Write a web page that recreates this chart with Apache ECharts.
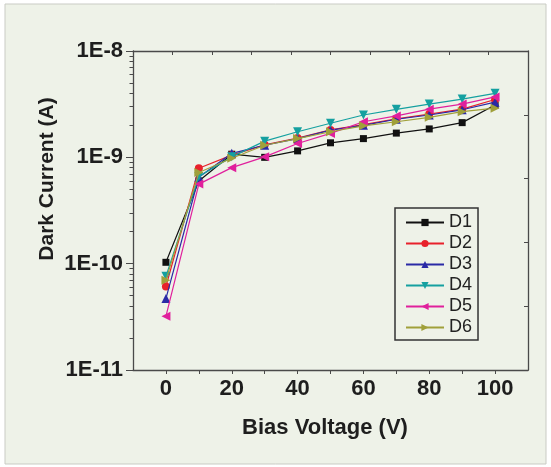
<!DOCTYPE html>
<html>
<head>
<meta charset="utf-8">
<script src="https://cdn.jsdelivr.net/npm/echarts@6/dist/echarts.min.js"></script>
<style>
html,body{margin:0;padding:0;background:#ffffff;}
#chart{width:551px;height:467px;}
</style>
</head>
<body>
<div id="chart"></div>
<script>
// ---- data ----
const voltages = [0, 10, 20, 30, 40, 50, 60, 70, 80, 90, 100];
const seriesNames = ['D1', 'D2', 'D3', 'D4', 'D5', 'D6'];
const D1 = [1.03e-10, 6.0e-10, 1.07e-9, 1.0e-9, 1.15e-9, 1.37e-9, 1.50e-9, 1.69e-9, 1.85e-9, 2.12e-9, 3.1e-9];
const D2 = [6.1e-11, 7.9e-10, 1.05e-9, 1.31e-9, 1.52e-9, 1.81e-9, 2.03e-9, 2.30e-9, 2.55e-9, 2.84e-9, 3.5e-9];
const D3 = [4.7e-11, 6.5e-10, 1.09e-9, 1.30e-9, 1.50e-9, 1.80e-9, 2.00e-9, 2.28e-9, 2.50e-9, 2.80e-9, 3.3e-9];
const D4 = [7.6e-11, 6.6e-10, 1.01e-9, 1.42e-9, 1.74e-9, 2.09e-9, 2.50e-9, 2.83e-9, 3.17e-9, 3.53e-9, 4.0e-9];
const D5 = [3.2e-11, 5.6e-10, 8.0e-10, 1.01e-9, 1.35e-9, 1.68e-9, 2.16e-9, 2.45e-9, 2.84e-9, 3.17e-9, 3.7e-9];
const D6 = [7.0e-11, 7.2e-10, 9.8e-10, 1.30e-9, 1.50e-9, 1.74e-9, 1.98e-9, 2.16e-9, 2.38e-9, 2.69e-9, 2.9e-9];
const xLabelValues = [0, 20, 40, 60, 80, 100];
const xTickValues = [0, 10, 20, 30, 40, 50, 60, 70, 80, 90, 100];
const topTickValues = [2, 14, 26, 38, 50, 62, 74, 86, 98];
const yMinorTickValues = [2e-11,3e-11,4e-11,5e-11,6e-11,7e-11,8e-11,9e-11,
                          2e-10,3e-10,4e-10,5e-10,6e-10,7e-10,8e-10,9e-10,
                          2e-9,3e-9,4e-9,5e-9,6e-9,7e-9,8e-9,9e-9];
const rightTickValues = [2.5e-9, 6.3e-10, 1.58e-10, 4e-11];

// ---- styling ----
const colors = ['#111111', '#e8212b', '#2a2aa6', '#15a0a0', '#e0209c', '#a0a03a'];
const symbols = ['rect', 'circle', 'triangle', 'triangle', 'triangle', 'triangle'];
const rotations = [0, 0, 0, 180, 90, -90];
const sizes = [7, 8, 9, 9, 9, 9];
const allData = [D1, D2, D3, D4, D5, D6];
const FONT = '"Liberation Sans", Arial, sans-serif';
const axisColor = '#4a4a4a';

const chart = echarts.init(document.getElementById('chart'), null, {renderer: 'canvas'});

const series = seriesNames.map((name, i) => ({
  name: name,
  type: 'line',
  xAxisIndex: 0,
  yAxisIndex: 0,
  data: voltages.map((v, k) => [v, allData[i][k]]),
  symbol: symbols[i],
  symbolRotate: rotations[i],
  symbolSize: sizes[i],
  showAllSymbol: true,
  color: colors[i],
  lineStyle: {width: 1.2, color: colors[i]},
  itemStyle: {color: colors[i]},
  z: 2 + i
}));

const option = {
  backgroundColor: 'transparent',
  animation: false,
  graphic: [
    {type: 'rect', shape: {x: 5, y: 4, width: 541, height: 460}, style: {fill: '#eef2e8', stroke: '#c9cbc4', lineWidth: 1}, z: -10, silent: true},
    {type: 'text', x: 325, y: 428, style: {text: 'Bias Voltage (V)', font: 'bold 22px ' + FONT, fill: '#1e1e1e', align: 'center', verticalAlign: 'middle'}},
    {type: 'text', x: 47, y: 179, rotation: Math.PI / 2, style: {text: 'Dark Current (A)', font: 'bold 21px ' + FONT, fill: '#1e1e1e', align: 'center', verticalAlign: 'middle'}}
  ],
  grid: {left: 133, right: 23, top: 51, bottom: 97, containLabel: false},
  legend: {
    data: seriesNames,
    orient: 'vertical',
    left: 395,
    top: 208,
    padding: [4, 6, 2, 10],
    itemWidth: 38,
    itemHeight: 9,
    itemGap: 0,
    borderColor: '#333333',
    borderWidth: 1.5,
    backgroundColor: '#eef2e8',
    textStyle: {fontFamily: FONT, fontSize: 18, color: '#222222', lineHeight: 21, padding: [0, 0, 0, 0]}
  },
  xAxis: [
    {
      type: 'value', position: 'bottom', min: -10, max: 110,
      splitLine: {show: false},
      axisLine: {show: true, onZero: false, lineStyle: {color: axisColor, width: 1.3}},
      axisTick: {show: true, inside: false, length: 4, customValues: xTickValues, lineStyle: {color: axisColor}},
      axisLabel: {customValues: xLabelValues, margin: 8, fontFamily: FONT, fontWeight: 'bold', fontSize: 22, color: '#1e1e1e'}
    },
    {
      type: 'value', position: 'top', min: -10, max: 110,
      splitLine: {show: false},
      axisLine: {show: true, onZero: false, lineStyle: {color: axisColor, width: 1.3}},
      axisTick: {show: true, inside: true, length: 4, customValues: topTickValues, lineStyle: {color: axisColor}},
      axisLabel: {show: false}
    }
  ],
  yAxis: [
    {
      type: 'log', logBase: 10, min: 1e-11, max: 1e-8, interval: 1,
      position: 'left',
      splitLine: {show: false},
      axisLine: {show: true, onZero: false, lineStyle: {color: axisColor, width: 1.3}},
      axisTick: {show: true, inside: false, length: 7, lineStyle: {color: axisColor}},
      axisLabel: {
        margin: 10, fontFamily: FONT, fontWeight: 'bold', fontSize: 22, color: '#1e1e1e',
        formatter: v => '1E' + Math.round(Math.log10(v))
      }
    },
    {
      type: 'log', logBase: 10, min: 1e-11, max: 1e-8,
      position: 'left',
      splitLine: {show: false},
      axisLine: {show: false, onZero: false},
      axisTick: {show: true, inside: false, length: 3.5, customValues: yMinorTickValues, lineStyle: {color: axisColor}},
      axisLabel: {show: false}
    },
    {
      type: 'log', logBase: 10, min: 1e-11, max: 1e-8,
      position: 'right',
      splitLine: {show: false},
      axisLine: {show: true, onZero: false, lineStyle: {color: axisColor, width: 1.3}},
      axisTick: {show: true, inside: true, length: 4, customValues: rightTickValues, lineStyle: {color: axisColor}},
      axisLabel: {show: false}
    }
  ],
  series: series
};

chart.setOption(option);
</script>
</body>
</html>
